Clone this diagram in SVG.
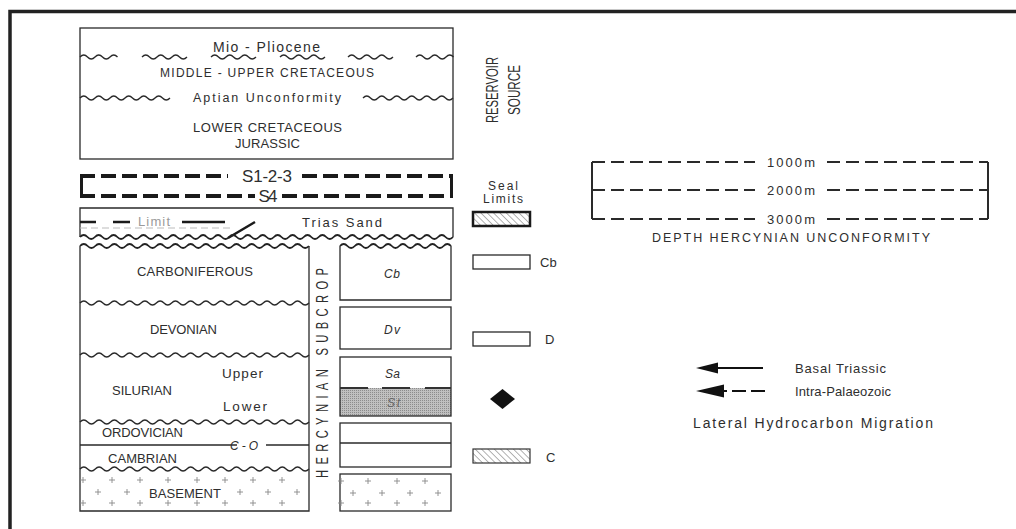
<svg xmlns="http://www.w3.org/2000/svg" xmlns:xlink="http://www.w3.org/1999/xlink" width="1016" height="529" viewBox="0 0 1016 529">
<style>
text{font-family:"Liberation Sans",Arial,sans-serif;fill:#2e2e2e;}
.t13{font-size:13px;}
.t12{font-size:12px;}
.mid{text-anchor:middle;}
.it{font-style:italic;}
.ln{fill:none;stroke:#2a2a2a;stroke-width:1.3;}
.wv{fill:none;stroke:#2a2a2a;stroke-width:1.3;}
.wvb{fill:none;stroke:#222;stroke-width:1.8;}
.seal{fill:none;stroke:#1a1a1a;stroke-width:4;stroke-dasharray:15 6;}
.brk{fill:none;stroke:#1a1a1a;stroke-width:3;}
.dep{fill:none;stroke:#2a2a2a;stroke-width:2;stroke-dasharray:13 6;}
.pl{fill:none;stroke:#888;stroke-width:0.9;}
</style>
<defs>
<pattern id="hatch" width="4.5" height="4.5" patternUnits="userSpaceOnUse" patternTransform="rotate(-45)">
<rect width="4.5" height="4.5" fill="#fff"/>
<line x1="0" y1="0" x2="0" y2="4.5" stroke="#555" stroke-width="0.9"/>
</pattern>
<pattern id="stip" width="2" height="2" patternUnits="userSpaceOnUse">
<rect width="2" height="2" fill="#c0c0c0"/>
<rect width="1" height="1" fill="#8c8c8c"/>
</pattern>
<path id="w5" d="M0,0 q3.75,-4 7.5,0 t7.5,0 t7.5,0 t7.5,0 t7.5,0"/>
<path id="w6" d="M0,0 q3.75,-4 7.5,0 t7.5,0 t7.5,0 t7.5,0 t7.5,0 t7.5,0"/>
<path id="w12" d="M0,0 q3.75,-4 7.5,0 t7.5,0 t7.5,0 t7.5,0 t7.5,0 t7.5,0 t7.5,0 t7.5,0 t7.5,0 t7.5,0 t7.5,0 t7.5,0"/>
<path id="wcol" d="M0,0 q3.817,-4 7.633,0 t7.633,0 t7.633,0 t7.633,0 t7.633,0 t7.633,0 t7.633,0 t7.633,0 t7.633,0 t7.633,0 t7.633,0 t7.633,0 t7.633,0 t7.633,0 t7.633,0 t7.633,0 t7.633,0 t7.633,0 t7.633,0 t7.633,0 t7.633,0 t7.633,0 t7.633,0 t7.633,0 t7.633,0 t7.633,0 t7.633,0 t7.633,0 t7.633,0 t7.633,0"/>
<path id="wmid" d="M0,0 q3.7,-4 7.4,0 t7.4,0 t7.4,0 t7.4,0 t7.4,0 t7.4,0 t7.4,0 t7.4,0 t7.4,0 t7.4,0 t7.4,0 t7.4,0 t7.4,0 t7.4,0 t7.4,0"/>
<path id="wfull" d="M0,0 q3.73,-4 7.46,0 t7.46,0 t7.46,0 t7.46,0 t7.46,0 t7.46,0 t7.46,0 t7.46,0 t7.46,0 t7.46,0 t7.46,0 t7.46,0 t7.46,0 t7.46,0 t7.46,0 t7.46,0 t7.46,0 t7.46,0 t7.46,0 t7.46,0 t7.46,0 t7.46,0 t7.46,0 t7.46,0 t7.46,0 t7.46,0 t7.46,0 t7.46,0 t7.46,0 t7.46,0 t7.46,0 t7.46,0 t7.46,0 t7.46,0 t7.46,0 t7.46,0 t7.46,0 t7.46,0 t7.46,0 t7.46,0 t7.46,0 t7.46,0 t7.46,0 t7.46,0 t7.46,0 t7.46,0 t7.46,0 t7.46,0 t7.46,0 t7.46,0"/>
<path id="pl" d="M-3,0H3M0,-3V3"/>
</defs>
<rect width="1016" height="529" fill="#fff"/>
<path d="M10,529 V11.5 H1016" fill="none" stroke="#222" stroke-width="3.5"/>

<g id="upper-section">
<rect class="ln" x="80" y="28" width="373" height="131"/>
<use href="#w5" class="wv" x="80" y="57"/>
<use href="#w6" class="wv" x="142" y="57"/>
<use href="#w6" class="wv" x="211" y="57"/>
<use href="#w6" class="wv" x="280" y="57"/>
<use href="#w6" class="wv" x="348" y="57"/>
<use href="#w5" class="wv" x="416" y="57"/>
<use href="#w12" class="wv" x="80" y="98"/>
<use href="#w12" class="wv" x="363" y="98"/>
<text class="mid" x="266.5" y="52" font-size="14" textLength="107">Mio - Pliocene</text>
<text class="mid t12" x="267" y="77" textLength="214">MIDDLE - UPPER CRETACEOUS</text>
<text class="mid" x="267" y="102" font-size="12.5" textLength="148">Aptian Unconformity</text>
<text class="mid t13" x="267.5" y="132" textLength="149">LOWER CRETACEOUS</text>
<text class="mid t13" x="267.5" y="148" textLength="65">JURASSIC</text>
</g>

<g id="seals">
<path class="brk" d="M81.5,174.5 V197.5 M451.5,174.5 V197.5"/>
<path class="seal" d="M80,176 H228 M302,176 H453 M80,196 H255 M282,196 H453"/>
<text class="mid" x="267" y="182" font-size="17" fill="#111" textLength="50">S1-2-3</text>
<text class="mid" x="268" y="202" font-size="17" fill="#111" textLength="19">S4</text>
</g>

<g id="trias-sand">
<path class="ln" d="M80,237 V208 H453 V237"/>
<path d="M80,228 H232" fill="none" stroke="#bbb" stroke-width="1" stroke-dasharray="7 4"/>
<path d="M80,222 H96 M113,222 H130 M182,222 H225 M255,222 L228,238" fill="none" stroke="#1a1a1a" stroke-width="2.5"/>
<text class="mid t13" x="154" y="226" textLength="32" style="fill:#9a9a9a">Limit</text>
<text class="mid t13" x="342" y="227" textLength="80">Trias Sand</text>
<use href="#wfull" class="wvb" x="80" y="237"/>
</g>

<g id="hercynian-column">
<use href="#wcol" class="wvb" x="80" y="246"/>
<path class="ln" d="M80,246 V511 H309 V246"/>
<use href="#wcol" class="wv" x="80" y="303"/>
<use href="#wcol" class="wv" x="80" y="355"/>
<use href="#wcol" class="wv" x="80" y="422"/>
<use href="#wcol" class="wv" x="80" y="469"/>
<path class="ln" d="M80,445 H237 M266,445 H309"/>
<text class="mid t13" x="195" y="275.5" textLength="116">CARBONIFEROUS</text>
<text class="mid t13" x="183.5" y="333.5" textLength="67">DEVONIAN</text>
<text class="mid" x="242.5" y="377.5" font-size="13.5" textLength="41">Upper</text>
<text class="mid t13" x="142" y="395" textLength="60">SILURIAN</text>
<text class="mid" x="245" y="411" font-size="13.5" textLength="44">Lower</text>
<text class="mid t13" x="142.5" y="436.5" textLength="81">ORDOVICIAN</text>
<text class="it t12" x="230" y="449.5" textLength="28">C-O</text>
<text class="mid t13" x="142.5" y="463" textLength="69">CAMBRIAN</text>
<text class="mid t13" x="185" y="497.5" textLength="72">BASEMENT</text>
<g class="pl">
<use href="#pl" x="83" y="480"/><use href="#pl" x="112" y="480"/><use href="#pl" x="140" y="480"/><use href="#pl" x="168" y="480"/><use href="#pl" x="197" y="480"/><use href="#pl" x="225" y="480"/><use href="#pl" x="253" y="480"/><use href="#pl" x="282" y="480"/>
<use href="#pl" x="98" y="492"/><use href="#pl" x="127" y="492"/><use href="#pl" x="240" y="492"/><use href="#pl" x="268" y="492"/><use href="#pl" x="297" y="492"/>
<use href="#pl" x="83" y="503"/><use href="#pl" x="112" y="503"/><use href="#pl" x="140" y="503"/><use href="#pl" x="168" y="503"/><use href="#pl" x="197" y="503"/><use href="#pl" x="225" y="503"/><use href="#pl" x="253" y="503"/><use href="#pl" x="282" y="503"/>
</g>
</g>

<g id="subcrop-label">
<text transform="translate(328,373) rotate(-90) scale(0.7,1)" class="mid" font-size="16" textLength="300">HERCYNIAN SUBCROP</text>
</g>

<g id="subcrop-column">
<use href="#wmid" class="wvb" x="340" y="246"/>
<path class="ln" d="M340,246 V300 H451 V246"/>
<rect class="ln" x="340" y="307" width="111" height="42"/>
<rect x="340" y="388" width="111" height="28" fill="url(#stip)"/>
<rect class="ln" x="340" y="357" width="111" height="59"/>
<path d="M340,388 H368 M382,388 H410 M425,388 H451" fill="none" stroke="#333" stroke-width="2"/>
<rect class="ln" x="340" y="423" width="111" height="44"/>
<path class="ln" d="M340,443 H451"/>
<rect class="ln" x="340" y="474" width="111" height="37"/>
<text class="mid it t12" x="392" y="277.5" textLength="16">Cb</text>
<text class="mid it t12" x="392" y="333.5" textLength="16">Dv</text>
<text class="mid it t12" x="392.5" y="377.5" textLength="15">Sa</text>
<text class="mid it t12" x="393.5" y="407" textLength="13" style="fill:#666">St</text>
<g class="pl">
<use href="#pl" x="341" y="481"/><use href="#pl" x="368" y="481"/><use href="#pl" x="397" y="481"/><use href="#pl" x="425" y="481"/>
<use href="#pl" x="353" y="493"/><use href="#pl" x="382" y="493"/><use href="#pl" x="410" y="493"/><use href="#pl" x="438" y="493"/>
<use href="#pl" x="341" y="503"/><use href="#pl" x="368" y="503"/><use href="#pl" x="397" y="503"/><use href="#pl" x="425" y="503"/>
</g>
</g>

<g id="reservoir-source">
<text transform="translate(498,90) rotate(-90)" class="mid" font-size="16" textLength="66" lengthAdjust="spacingAndGlyphs">RESERVOIR</text>
<text transform="translate(520,90) rotate(-90)" class="mid" font-size="16" textLength="50" lengthAdjust="spacingAndGlyphs">SOURCE</text>
</g>

<g id="seal-limits-legend">
<text class="mid t12" x="503" y="189.5" textLength="30">Seal</text>
<text class="mid t12" x="503" y="203" textLength="40">Limits</text>
<rect x="473" y="212" width="57" height="14" fill="url(#hatch)" stroke="#1a1a1a" stroke-width="2.5"/>
<rect class="ln" x="473" y="255" width="57" height="14" fill="#fff"/>
<text class="t13" x="540" y="267">Cb</text>
<rect class="ln" x="473" y="332" width="57" height="14" fill="#fff"/>
<text class="t13" x="545" y="343.5">D</text>
<polygon points="490,399 502.5,389 515,399 502.5,409" fill="#111"/>
<rect x="473" y="449" width="57" height="14" fill="url(#hatch)" stroke="#333" stroke-width="1.2"/>
<text class="t13" x="546" y="461.5">C</text>
</g>

<g id="depth-hercynian-unconformity">
<path d="M592,162 V219 M988,162 V219" fill="none" stroke="#2a2a2a" stroke-width="2"/>
<path class="dep" d="M592,162 H755 M827,162 H988 M592,190 H755 M827,190 H988 M592,219 H755 M827,219 H988"/>
<text class="mid t13" x="791" y="166.5" textLength="48">1000m</text>
<text class="mid t13" x="791" y="194.5" textLength="48">2000m</text>
<text class="mid t13" x="791" y="223.5" textLength="48">3000m</text>
<text class="mid" x="791" y="242" font-size="12.5" textLength="278">DEPTH HERCYNIAN UNCONFORMITY</text>
</g>

<g id="connectors">
<polygon points="696,368 718,362.5 718,373.5" fill="#111"/>
<path d="M716,368 H763" fill="none" stroke="#111" stroke-width="2"/>
<polygon points="696,391 724,384.5 724,397.5" fill="#111"/>
<path d="M722,391 H727 M732,391 H746 M751,391 H765" fill="none" stroke="#111" stroke-width="2"/>
</g>

<g id="migration-legend">
<text class="t13" x="795" y="372.5" textLength="91">Basal Triassic</text>
<text class="t13" x="795" y="396" textLength="96">Intra-Palaeozoic</text>
<text x="693" y="428" font-size="14" textLength="240">Lateral Hydrocarbon Migration</text>
</g>
</svg>
